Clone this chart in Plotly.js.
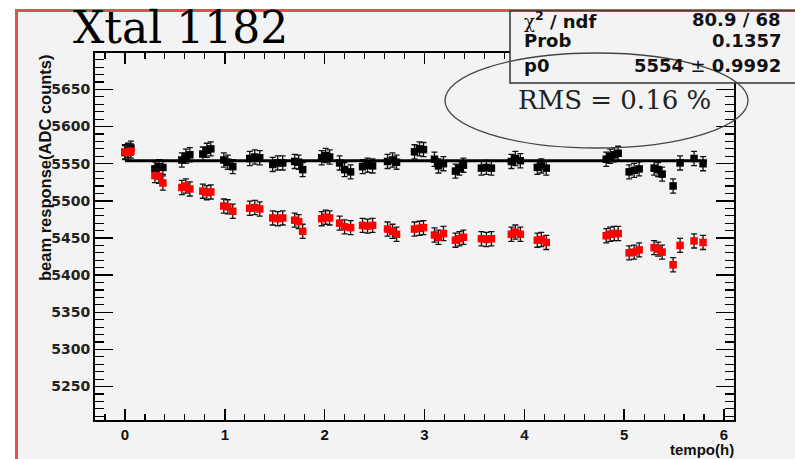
<!DOCTYPE html>
<html>
<head>
<meta charset="utf-8">
<script src="https://cdn.plot.ly/plotly-3.0.1.min.js"></script>
<style>
  html, body { margin:0; padding:0; background:#ffffff; width:795px; height:459px; overflow:hidden; }
  #frame { position:absolute; left:15px; top:9px; width:800px; height:470px; background:#f3f3f3;
           border-left:3px solid #d9534f; border-top:3px solid #d9534f; }
  #chart { position:absolute; left:0; top:0; width:795px; height:459px; }
</style>
</head>
<body>
<div id="frame"></div>
<div id="chart"></div>
<script>
// ---- data ----
const tempo = [
  0.00,0.03,0.06, 0.30,0.34,0.38, 0.57,0.61,0.65, 0.78,0.82,0.86,
  0.99,1.03,1.08, 1.25,1.30,1.35, 1.48,1.53,1.58, 1.70,1.74,1.78,
  1.97,2.01,2.05, 2.15,2.20,2.26, 2.38,2.43,2.48, 2.63,2.68,2.72,
  2.90,2.95,2.99, 3.10,3.14,3.19, 3.31,3.35,3.39, 3.57,3.62,3.67,
  3.87,3.91,3.96, 4.13,4.17,4.22, 4.82,4.86,4.90,4.94,
  5.05,5.10,5.15, 5.30,5.34,5.38, 5.49,5.56,5.70,5.79
];
const corrected = [
  5565,5568,5571, 5543,5546,5545, 5555,5560,5562, 5563,5568,5570,
  5555,5552,5546, 5557,5559,5558, 5549,5551,5551, 5553,5552,5542,
  5558,5561,5559, 5551,5542,5539, 5546,5548,5547, 5553,5555,5552,
  5566,5570,5569, 5556,5547,5550, 5540,5544,5548, 5544,5545,5544,
  5553,5557,5554, 5545,5547,5544, 5556,5560,5562,5564,
  5539,5541,5543, 5544,5542,5536, 5520,5551,5557,5550
];
const raw = [
  5566,5565,5567, 5534,5533,5524, 5518,5520,5516, 5513,5511,5512,
  5493,5492,5486, 5490,5491,5489, 5477,5476,5477, 5474,5472,5459,
  5476,5478,5477, 5470,5465,5464, 5467,5466,5467, 5462,5459,5455,
  5462,5463,5464, 5454,5451,5456, 5447,5449,5451, 5449,5448,5449,
  5455,5458,5455, 5447,5448,5444, 5453,5455,5456,5456,
  5430,5431,5434, 5437,5435,5431, 5414,5440,5446,5444
];
const errBar = 9.5;
const fitP0 = 5554;
const fitRange = [0.0, 5.83];
const yTicks = [5250,5300,5350,5400,5450,5500,5550,5600,5650];
const xTicks = [0,1,2,3,4,5,6];
const statsLabels = ["<span style='font-family:DejaVu Serif;font-weight:normal'>χ</span><sup>2</sup> / ndf", "Prob", "p0"];
const statsValues = ["80.9 / 68", "0.1357", "5554 <span style='font-weight:normal'>±</span> 0.9992"];
const chartTitle = "Xtal 1182";
const rmsText = "RMS = 0.16 %";
const yTitle = "beam response(ADC counts)";
const xTitle = "tempo(h)";

// ---- layout geometry ----
const W = 795, H = 459, L = 95, R = 61, T = 53, B = 39;
const pw = W - L - R, ph = H - T - B;
const px = p => (p - L) / pw;
const py = p => (H - B - p) / ph;

const errStyle = {type:'constant', value:errBar, color:'#111', thickness:1.3, width:3};

const traces = [
  {x:tempo, y:corrected, type:'scatter', mode:'markers',
   marker:{symbol:'square', size:7.5, color:'#000'}, error_y:errStyle, hoverinfo:'skip'},
  {x:fitRange, y:[fitP0, fitP0], type:'scatter', mode:'lines',
   line:{color:'#000', width:3}, hoverinfo:'skip'},
  {x:tempo, y:raw, type:'scatter', mode:'markers',
   marker:{symbol:'square', size:7.5, color:'#ff0000'}, error_y:errStyle, hoverinfo:'skip'}
];

const sansB = 'Liberation Sans, Arial, sans-serif';
const annotations = [
  {text:chartTitle, xref:'paper', yref:'paper', x:px(71), y:py(28), xanchor:'left', yanchor:'middle',
   showarrow:false, font:{family:'DejaVu Serif', size:44, color:'#000'}},
  {text:rmsText, xref:'paper', yref:'paper', x:px(614), y:py(100), xanchor:'center', yanchor:'middle',
   showarrow:false, font:{family:'DejaVu Serif', size:26, color:'#222'}},
  {text:yTitle, xref:'paper', yref:'paper', x:px(45), y:py(168), xanchor:'center', yanchor:'middle',
   textangle:-90, showarrow:false, font:{family:sansB, size:16.5, color:'#111', weight:700}},
  {text:xTitle, xref:'paper', yref:'paper', x:px(736), y:py(449.5), xanchor:'right', yanchor:'middle',
   showarrow:false, font:{family:sansB, size:15, color:'#111', weight:700}}
];
const rowY = [20, 41, 65];
statsLabels.forEach((s, i) => {
  annotations.push({text:s, xref:'paper', yref:'paper', x:px(522), y:py(rowY[i]), xanchor:'left', yanchor:'middle',
    showarrow:false, font:{family:'DejaVu Sans', size:18, color:'#111', weight:700}});
  annotations.push({text:statsValues[i], xref:'paper', yref:'paper', x:px(783), y:py(rowY[i]), xanchor:'right', yanchor:'middle',
    showarrow:false, font:{family:'DejaVu Sans', size:18, color:'#111', weight:700}});
});

const shapes = [
  {type:'rect', xref:'paper', yref:'paper', x0:px(510), x1:px(805), y0:py(83), y1:py(11),
   fillcolor:'#f3f3f3', line:{color:'#333', width:1.5}, layer:'above'},
  {type:'circle', xref:'paper', yref:'paper', x0:px(445), x1:px(748), y0:py(148), y1:py(53),
   line:{color:'#444', width:1.3}, layer:'above'}
];

const layout = {
  width:W, height:H,
  margin:{l:L, r:R, t:T, b:B, pad:0},
  paper_bgcolor:'rgba(0,0,0,0)', plot_bgcolor:'#f3f3f3',
  showlegend:false,
  xaxis:{range:[-0.3, 6.1], tickmode:'array', tickvals:xTicks, ticktext:xTicks.map(String),
    ticks:'inside', ticklen:11, tickwidth:1.5, tickcolor:'#000',
    minor:{dtick:0.2, tick0:0, ticks:'inside', ticklen:6, tickwidth:1.2, tickcolor:'#000'},
    showline:true, linecolor:'#000', linewidth:2, mirror:'allticks', showgrid:false, zeroline:false,
    tickfont:{family:sansB, size:15, color:'#111', weight:700}},
  yaxis:{range:[5205, 5699], tickmode:'array', tickvals:yTicks, ticktext:yTicks.map(String),
    ticks:'inside', ticklen:18, tickwidth:1.5, tickcolor:'#000',
    minor:{dtick:10, tick0:5200, ticks:'inside', ticklen:9, tickwidth:1.2, tickcolor:'#000'},
    showline:true, linecolor:'#000', linewidth:2, mirror:'allticks', showgrid:false, zeroline:false,
    tickfont:{family:'DejaVu Sans', size:14, color:'#222', weight:700}},
  annotations:annotations,
  shapes:shapes
};

Plotly.newPlot('chart', traces, layout, {staticPlot:true, displayModeBar:false});
</script>
</body>
</html>
